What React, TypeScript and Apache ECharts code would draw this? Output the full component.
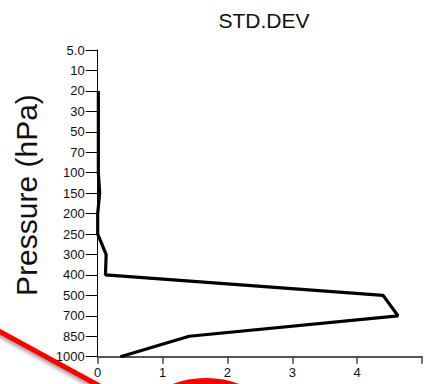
import React, { useEffect, useRef } from "react";
import * as echarts from "echarts";

const levels = ["5.0", "10", "20", "30", "50", "70", "100", "150", "200", "250", "300", "400", "500", "700", "850", "1000"];
const stdDev: (number | null)[] = [null, null, 0.01, 0.01, 0.01, 0.01, 0.01, 0.03, 0.0, 0.0, 0.13, 0.12, 4.4, 4.63, 1.41, 0.35];
const xTicks = [0, 1, 2, 3, 4];
const titleText = "STD.DEV";
const yName = "Pressure (hPa)";

export default function App() {
  const ref = useRef<HTMLDivElement>(null);
  useEffect(() => {
    if (!ref.current) return;
    const chart = echarts.init(ref.current, null, { renderer: "svg" });
    const font = "'Liberation Sans', Arial, sans-serif";
    const seriesData = levels
      .map((lv, i) => (stdDev[i] === null ? null : [stdDev[i], lv]))
      .filter((d) => d !== null);
    chart.setOption({
      animation: false,
      backgroundColor: "#ffffff",
      grid: { left: 97.7, right: -5.2, top: 50, bottom: 27.3, containLabel: false },
      xAxis: {
        type: "value",
        min: 0,
        max: 5,
        interval: 1,
        axisLine: { show: true, lineStyle: { color: "#555555", width: 2 } },
        axisTick: { show: true, inside: false, length: 7, lineStyle: { color: "#444444", width: 1.5 } },
        axisLabel: {
          show: true,
          margin: 9,
          fontSize: 13,
          fontFamily: font,
          color: "#111111",
          formatter: (v: number) => (xTicks.includes(v) ? String(v) : ""),
        },
        splitLine: { show: false },
      },
      yAxis: {
        type: "category",
        data: levels,
        inverse: true,
        boundaryGap: false,
        axisLine: { show: true, onZero: false, lineStyle: { color: "#000000", width: 1 } },
        axisTick: { show: true, length: 12, lineStyle: { color: "#000000", width: 1 } },
        axisLabel: { show: true, margin: 13, fontSize: 13, fontFamily: font, color: "#111111", interval: 0 },
        splitLine: { show: false },
      },
      series: [
        {
          type: "line",
          data: seriesData,
          showSymbol: false,
          symbol: "none",
          lineStyle: { color: "#000000", width: 3.2 },
          z: 3,
        },
      ],
      graphic: [
        {
          type: "text",
          x: 264,
          y: 20,
          style: {
            text: titleText,
            font: `21px ${font}`,
            fill: "#111111",
            align: "center",
            verticalAlign: "middle",
          },
        },
        {
          type: "text",
          x: 26,
          y: 195,
          rotation: Math.PI / 2,
          style: {
            text: yName,
            font: `30px ${font}`,
            fill: "#111111",
            align: "center",
            verticalAlign: "middle",
          },
        },
        {
          type: "line",
          shape: { x1: -5, y1: 329, x2: 105, y2: 389 },
          style: {
            stroke: "#ff0000",
            lineWidth: 5,
            shadowBlur: 4,
            shadowColor: "rgba(0,0,0,0.45)",
            shadowOffsetX: 1,
            shadowOffsetY: 3,
          },
          z: 100,
        },
        {
          type: "ellipse",
          shape: { cx: 206, cy: 412, rx: 54, ry: 30 },
          style: { fill: "none", stroke: "#ff0000", lineWidth: 8 },
          z: 100,
        },
      ],
    });
    return () => chart.dispose();
  }, []);
  return (
    <div
      ref={ref}
      style={{ position: "fixed", left: 0, top: 0, width: 425, height: 384, background: "#fff" }}
    />
  );
}
